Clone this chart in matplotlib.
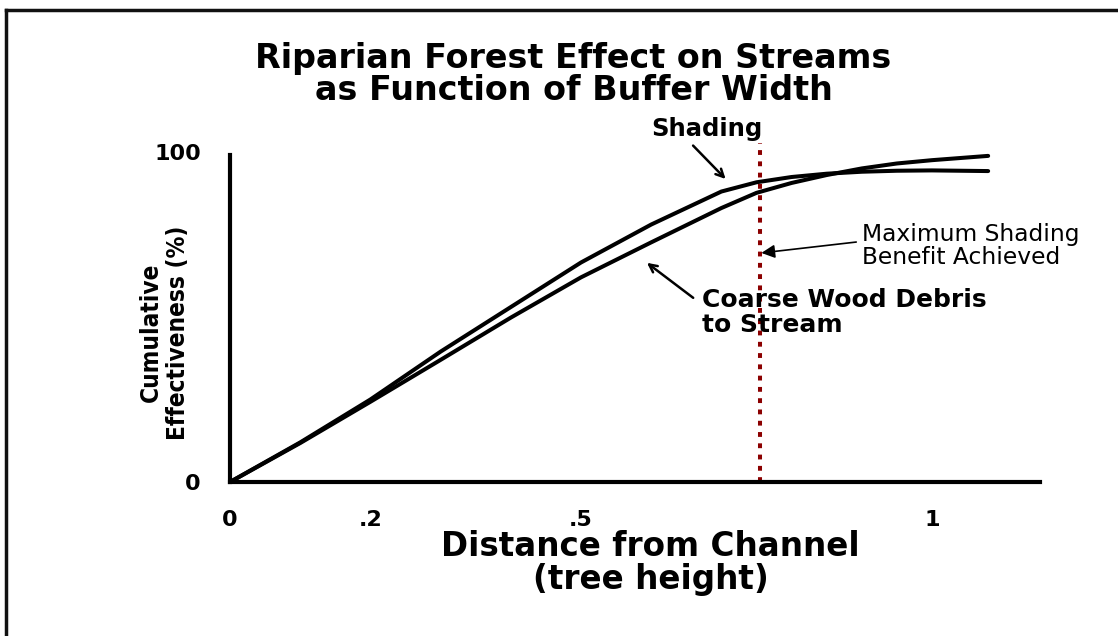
import numpy as np
import matplotlib
matplotlib.use("Agg")
import matplotlib.pyplot as plt
from matplotlib.lines import Line2D
from matplotlib import font_manager

# distance from channel (tree heights) and cumulative effectiveness (%)
dist = [0.0, 0.1, 0.2, 0.3, 0.4, 0.5, 0.6, 0.7, 0.75, 0.8, 0.85, 0.9, 0.95, 1.0, 1.08]
shading = [0.0, 12.0, 25.0, 39.5, 53.0, 66.5, 78.0, 88.0, 90.8, 92.4, 93.4, 94.0, 94.3,
           94.4, 94.2]
wood_debris = [0.0, 11.8, 24.3, 37.0, 49.8, 62.0, 72.6, 83.0, 87.6, 90.6, 93.0, 95.0, 96.5,
               97.5, 98.8]

max_shade_x = 0.755
xtick_vals = [0, 0.2, 0.5, 1]
xtick_text = ["0", ".2", ".5", "1"]
ytick_vals = [0, 100]
ytick_text = ["0", "100"]

# narrow bold face for the y label, if one is installed
narrow = None
for f in font_manager.fontManager.ttflist:
    if f.weight in (700, "bold") and ("Narrow" in f.name or "Condensed" in f.name
                                      or f.stretch in ("condensed", "semi-condensed")):
        narrow = f
        break

fig = plt.figure(figsize=(11.18, 6.36), dpi=100)
ax = fig.add_axes([0.2057, 0.2421, 0.7245, 0.5346])

ax.plot(dist, shading, color="black", lw=2.9, solid_capstyle="round",
        solid_joinstyle="round")
ax.plot(dist, wood_debris, color="black", lw=2.9, solid_capstyle="round",
        solid_joinstyle="round")

# red dotted marker line
ax.plot([max_shade_x, max_shade_x], [0, 102.7], color="#8b0000", lw=2.9,
        linestyle=(0, (1.2, 1.6)))

ax.set_xlim(0, 1.1538)
ax.set_ylim(0, 103)
for s in ["top", "right"]:
    ax.spines[s].set_visible(False)
ax.spines["left"].set_linewidth(3)
ax.spines["bottom"].set_linewidth(3)
ax.spines["left"].set_bounds(0, 99)

ax.set_xticks(xtick_vals)
ax.set_xticklabels(xtick_text, fontsize=16, fontweight="bold")
ax.set_yticks(ytick_vals)
ax.set_yticklabels(ytick_text, fontsize=16, fontweight="bold")
ax.tick_params(axis="x", length=0, pad=20)
ax.tick_params(axis="y", length=0, pad=21)

fig.text(0.513, 0.883, "Riparian Forest Effect on Streams\nas Function of Buffer Width",
         ha="center", va="center", fontsize=24, fontweight="bold", linespacing=0.98)

fig.text(0.582, 0.114, "Distance from Channel\n(tree height)", ha="center", va="center",
         fontsize=23.5, fontweight="bold", linespacing=1.0)

if narrow is not None:
    ylab_font = dict(fontproperties=font_manager.FontProperties(fname=narrow.fname, size=17.5))
else:
    ylab_font = dict(fontsize=15.5, fontweight="bold")
fig.text(0.147, 0.477, "Cumulative\nEffectiveness (%)", rotation=90, ha="center", va="center",
         linespacing=1.2, **ylab_font)

# annotations
ax.annotate("Shading", xy=(0.706, 91.8), xytext=(0.68, 107), ha="center", va="center",
            fontsize=17.5, fontweight="bold", annotation_clip=False,
            arrowprops=dict(arrowstyle="->", lw=1.8, color="black", shrinkA=2, shrinkB=0,
                            mutation_scale=14, relpos=(0.33, 0.0)))
ax.annotate("Coarse Wood Debris\nto Stream", xy=(0.594, 66.4), xytext=(0.672, 51.3),
            ha="left", va="center", fontsize=18, fontweight="bold", linespacing=1.08,
            arrowprops=dict(arrowstyle="->", lw=1.8, color="black", shrinkA=0, shrinkB=0,
                            mutation_scale=14, relpos=(-0.03, 0.8)))
ax.annotate("Maximum Shading\nBenefit Achieved", xy=(0.757, 69.4), xytext=(0.900, 71.5),
            ha="left", va="center", fontsize=16.8, linespacing=1.0, annotation_clip=False,
            arrowprops=dict(arrowstyle="-|>", lw=1.2, color="black", shrinkA=2, shrinkB=0,
                            mutation_scale=20, relpos=(0, 0.6)))

# frame edges along the top and left
fig.add_artist(Line2D([6 / 1118, 6 / 1118], [0, 1 - 10 / 636], color="#111111", lw=2.5))
fig.add_artist(Line2D([6 / 1118, 1], [1 - 10 / 636, 1 - 10 / 636], color="#111111", lw=2.5))

fig.savefig("out.png", dpi=100)
